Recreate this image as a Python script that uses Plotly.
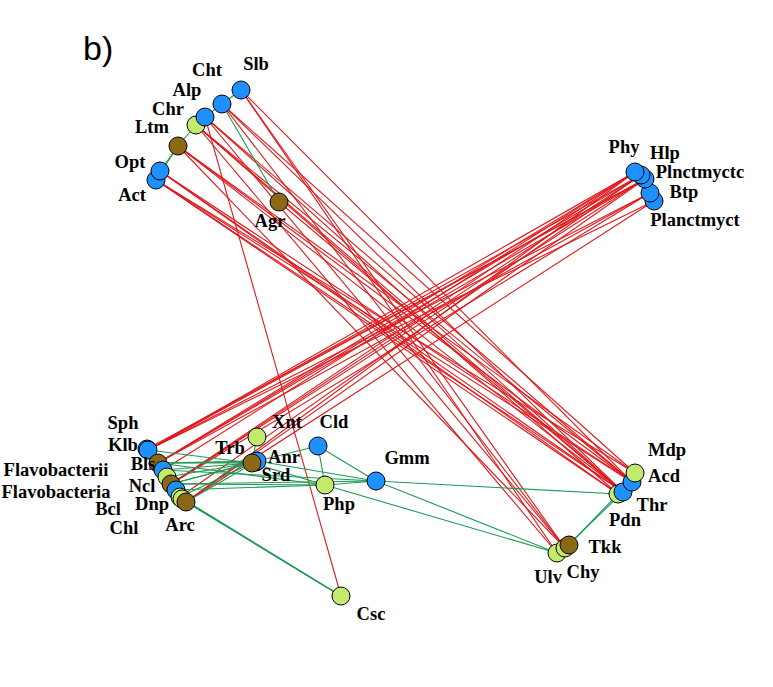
"""Co-occurrence network, panel b): nodes coloured by group, red = negative,
green = positive associations. Layout coordinates are in page pixels."""
import plotly.graph_objects as go

# ---- node table -----------------------------------------------------------
NODES = ["Csc",
         "Agr", "Act", "Opt", "Ltm", "Chr", "Alp", "Cht", "Slb",
         "Planctmyct", "Btp", "Plnctmyctc", "Hlp", "Phy",
         "Sph", "Klb", "Bls", "Flavobacterii", "Flavobacteria", "Ncl",
         "Bcl", "Dnp", "Chl", "Arc",
         "Xnt", "Srd", "Anr", "Trb", "Cld", "Php", "Gmm",
         "Pdn", "Thr", "Acd", "Mdp", "Ulv", "Chy", "Tkk"]
NODE_X = [341,
          279, 156, 160, 178, 196, 205, 222, 241,
          654, 650, 645, 641, 635,
          147, 148, 158, 163, 167, 171,
          176, 180, 182, 186,
          257, 256, 257, 252, 318, 325, 376,
          618, 623, 632, 635, 557, 565, 569]
NODE_Y = [596,
          202, 180, 171, 146, 125, 117, 104, 90,
          201, 193, 179, 175, 172,
          449, 450, 463, 470, 477, 484,
          490, 497, 499, 502,
          437, 462, 461, 463, 446, 485, 481,
          494, 492, 482, 473, 553, 548, 545]
NODE_GROUP = ["g",
              "b", "u", "u", "b", "g", "u", "u", "u",
              "u", "u", "u", "u", "u",
              "u", "u", "b", "u", "g", "b",
              "u", "g", "g", "b",
              "g", "u", "u", "b", "u", "g", "u",
              "g", "u", "u", "g", "g", "g", "b"]

# label centre positions
LABEL_X = [371,
           270, 132, 130, 152, 168, 187, 207, 256,
           695, 684, 700, 665, 624,
           123, 123, 143, 56, 56, 142,
           108, 152, 124, 180,
           287, 276, 284, 230, 334, 339, 407,
           625, 652, 664, 667, 548, 583, 605]
LABEL_Y = [615,
           222, 196, 163, 128, 110, 91, 71, 65,
           221, 193, 173, 154, 148,
           424, 446, 465, 471, 493, 487,
           510, 505, 529, 526,
           423, 476, 458, 449, 423, 505, 459,
           521, 506, 477, 451, 578, 573, 548]

# ---- edges ----------------------------------------------------------------
NEG_EDGES = [
    ("Act", "Thr"), ("Act", "Acd"), ("Act", "Pdn"), ("Act", "Mdp"),
    ("Opt", "Thr"), ("Opt", "Acd"), ("Opt", "Pdn"),
    ("Ltm", "Thr"), ("Ltm", "Acd"), ("Ltm", "Chy"), ("Ltm", "Mdp"),
    ("Chr", "Thr"), ("Chr", "Acd"), ("Chr", "Ulv"), ("Chr", "Pdn"),
    ("Alp", "Acd"), ("Alp", "Thr"), ("Alp", "Chy"), ("Alp", "Csc"),
    ("Cht", "Thr"), ("Cht", "Mdp"), ("Cht", "Chy"),
    ("Slb", "Chy"), ("Slb", "Ulv"), ("Slb", "Acd"), ("Agr", "Thr"),
    ("Phy", "Klb"), ("Phy", "Bls"), ("Phy", "Ncl"), ("Phy", "Arc"),
    ("Phy", "Flavobacterii"),
    ("Hlp", "Klb"), ("Hlp", "Bls"), ("Hlp", "Ncl"), ("Hlp", "Dnp"),
    ("Plnctmyctc", "Klb"), ("Plnctmyctc", "Bls"), ("Plnctmyctc", "Ncl"),
    ("Plnctmyctc", "Arc"), ("Plnctmyctc", "Sph"),
    ("Btp", "Bls"), ("Btp", "Ncl"), ("Btp", "Klb"),
    ("Planctmyct", "Klb"), ("Planctmyct", "Arc"),
]
POS_EDGES = [
    ("Slb", "Cht"), ("Cht", "Alp"), ("Alp", "Chr"), ("Chr", "Ltm"),
    ("Ltm", "Opt"), ("Ltm", "Act"), ("Opt", "Act"), ("Cht", "Agr"),
    ("Klb", "Trb"), ("Bls", "Trb"), ("Bls", "Anr"), ("Ncl", "Trb"),
    ("Ncl", "Anr"), ("Flavobacterii", "Trb"), ("Flavobacteria", "Srd"),
    ("Dnp", "Trb"), ("Bls", "Php"), ("Ncl", "Php"), ("Bcl", "Php"),
    ("Flavobacterii", "Gmm"), ("Ncl", "Gmm"), ("Bls", "Srd"),
    ("Arc", "Anr"), ("Arc", "Csc"), ("Dnp", "Csc"), ("Chl", "Csc"),
    ("Xnt", "Trb"), ("Anr", "Cld"), ("Cld", "Php"), ("Cld", "Gmm"),
    ("Trb", "Php"), ("Anr", "Gmm"), ("Php", "Gmm"), ("Gmm", "Pdn"),
    ("Gmm", "Ulv"), ("Php", "Ulv"), ("Pdn", "Tkk"), ("Thr", "Chy"),
]

GROUP_COLOR = {"u": "#1e90ff", "g": "#c2ea6c", "b": "#8b6914"}
NEG_COLOR = "#e0191c"
POS_COLOR = "#1f9a55"
W, H = 773, 687

pos = {n: (x, y) for n, x, y in zip(NODES, NODE_X, NODE_Y)}


def edge_xy(edges):
    xs, ys = [], []
    for a, b in edges:
        xs += [pos[a][0], pos[b][0], None]
        ys += [pos[a][1], pos[b][1], None]
    return xs, ys


fig = go.Figure()
for edges, col in [(NEG_EDGES, NEG_COLOR), (POS_EDGES, POS_COLOR)]:
    ex, ey = edge_xy(edges)
    fig.add_trace(go.Scatter(x=ex, y=ey, mode="lines",
                             line=dict(color=col, width=1.1),
                             hoverinfo="skip", showlegend=False))

fig.add_trace(go.Scatter(
    x=NODE_X, y=NODE_Y, mode="markers",
    marker=dict(size=18, color=[GROUP_COLOR[g] for g in NODE_GROUP],
                line=dict(color="black", width=1)),
    text=NODES, hovertemplate="%{text}<extra></extra>", showlegend=False))

fig.add_trace(go.Scatter(
    x=LABEL_X, y=LABEL_Y, mode="text", cliponaxis=False,
    text=[f"<b>{n}</b>" for n in NODES], textposition="middle center",
    textfont=dict(family="Liberation Serif, Times New Roman, serif",
                  size=18.5, color="black"),
    hoverinfo="skip", showlegend=False))

fig.add_annotation(x=98, y=48, text="b)", showarrow=False,
                   font=dict(family="Liberation Sans, Arial, sans-serif",
                             size=34, color="black"))

fig.update_xaxes(range=[0, W], visible=False, fixedrange=True)
fig.update_yaxes(range=[H, 0], visible=False, fixedrange=True)
fig.update_layout(width=W, height=H, margin=dict(l=0, r=0, t=0, b=0),
                  plot_bgcolor="white", paper_bgcolor="white")

# drop the default page margin so the figure sits flush in the window
fig.write_html("out.html", config={"displayModeBar": False},
               post_script="document.body.style.margin='0';")
